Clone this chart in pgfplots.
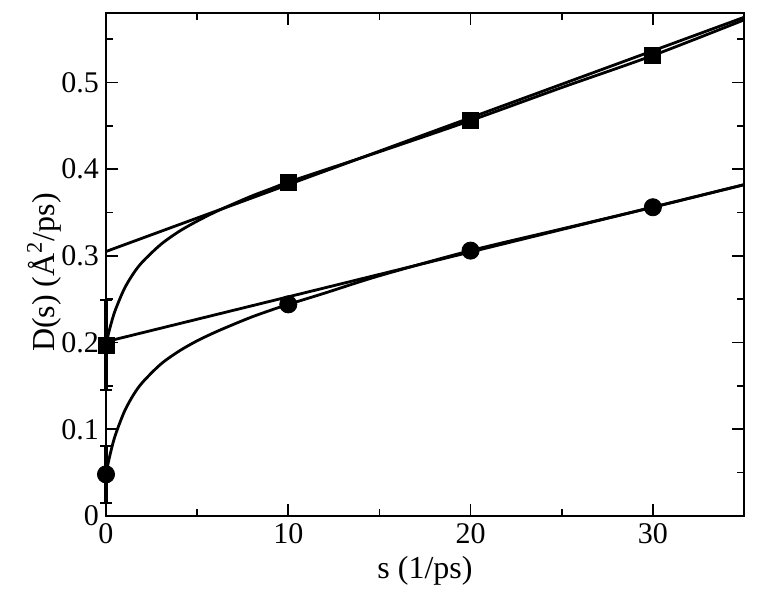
\documentclass[border=0pt]{standalone}
\usepackage{fontspec}
\setmainfont{Liberation Serif}
\usepackage{pgfplots}
\pgfplotsset{compat=1.18}
\begin{document}
\begin{tikzpicture}
\begin{axis}[
  name=main,
  width=319pt, height=251.5pt, scale only axis,
  xmin=0, xmax=35, ymin=0, ymax=0.58,
  xtick={0,10,20,30}, ytick={0,0.1,0.2,0.3,0.4,0.5},
  minor xtick={5,15,25,35}, minor ytick={0.05,0.15,0.25,0.35,0.45,0.55},
  tick align=inside, major tick length=6pt, minor tick length=3.5pt,
  tick style={line width=0.8pt, black},
  axis line style={line width=0.6pt},
  /pgf/number format/assume math mode=true,
  /pgf/number format/fixed,
  tick label style={font=\fontsize{15}{18}\selectfont},
  label style={font=\fontsize{16}{19}\selectfont},
  xlabel={s (1/ps)}, ylabel={D(s) (Å\textsuperscript{2}/ps)},
  xlabel style={at={(axis description cs:0.5,-0.108)}, anchor=center},
  ylabel style={at={(axis description cs:-0.097,0.484)}, anchor=center},
  clip=false,
]
% linear fits
\addplot[line width=1.4pt, black] coordinates {(0,0.305) (35,0.575)};
\addplot[line width=1.4pt, black] coordinates {(0,0.201) (35,0.382)};
% smooth curves
\addplot[line width=1.4pt, black, smooth] coordinates {
(0,0.197) (0.1,0.207) (0.25,0.2195) (0.5,0.2368) (1,0.2618) (1.5,0.2795) (2,0.293) (3,0.313) (4,0.328) (5,0.340) (6,0.3506) (7,0.360) (8,0.369) (9,0.377) (10,0.385) (12,0.399) (15,0.42) (20,0.456) (25,0.494) (30,0.531) (35,0.572)};
\addplot[line width=1.4pt, black, smooth] coordinates {
(0,0.048) (0.1,0.059) (0.25,0.073) (0.5,0.0925) (1,0.120) (1.5,0.1395) (2,0.154) (3,0.175) (4,0.190) (5,0.202) (6,0.212) (7,0.221) (8,0.2295) (9,0.237) (10,0.244) (12,0.257) (15,0.277) (20,0.306) (25,0.331) (30,0.356) (35,0.382)};
% error bars
\addplot[black, line width=2.2pt, mark=-, mark size=3pt, mark options={line width=1.2pt}] coordinates {(0,0.145) (0,0.249)};
\addplot[black, line width=2.2pt, mark=-, mark size=3pt, mark options={line width=1.2pt}] coordinates {(0,0.015) (0,0.081)};
% data points
\addplot[only marks, mark=square*, mark size=4pt, black]
  coordinates {(0,0.197) (10,0.385) (20,0.456) (30,0.531)};
\addplot[only marks, mark=*, mark size=4.3pt, black]
  coordinates {(0,0.048) (10,0.244) (20,0.306) (30,0.356)};
\end{axis}
\path[use as bounding box] ([xshift=-53pt,yshift=-39pt]main.south west) rectangle ([xshift=9pt,yshift=6.5pt]main.north east);
\end{tikzpicture}
\end{document}
